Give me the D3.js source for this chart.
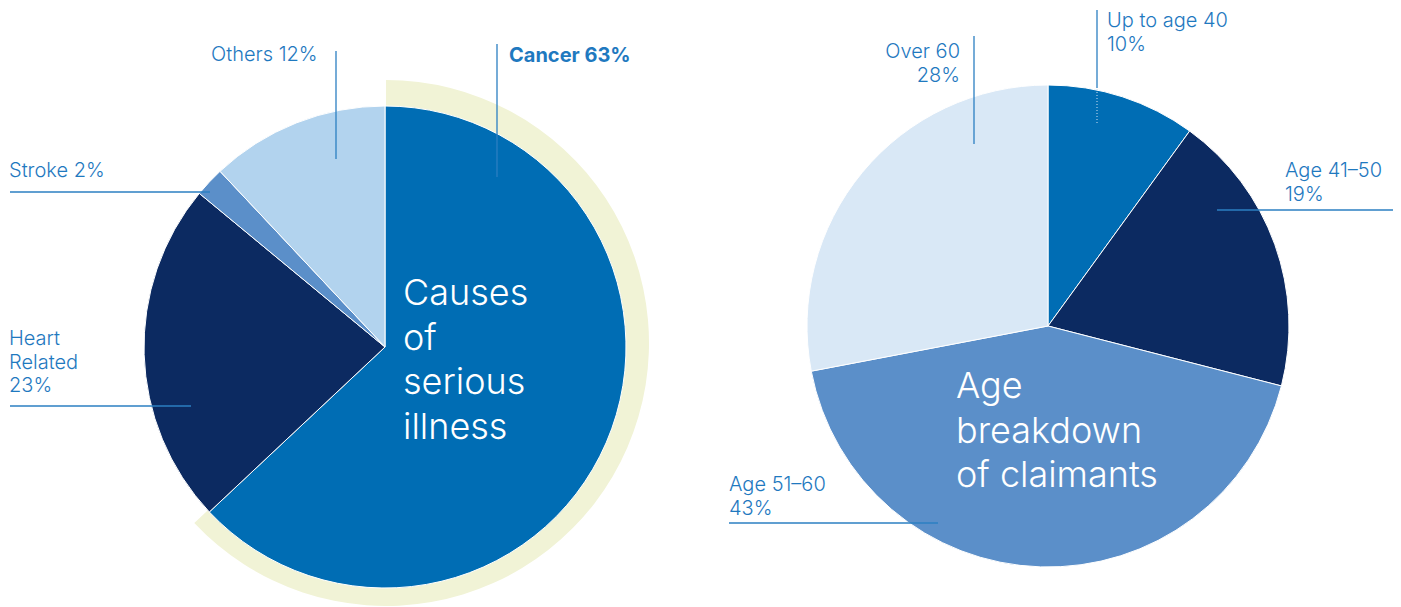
<!DOCTYPE html>
<html>
<head>
<meta charset="utf-8">
<script src="https://cdn.jsdelivr.net/npm/d3@7"></script>
<style>
  body { margin: 0; background: #fff; }
  svg text { font-family: Inter, "Liberation Sans", sans-serif; }
</style>
</head>
<body>
<div id="chart"></div>
<script>
// causes of serious illness
var causeLabels = ["Cancer", "Heart Related", "Stroke", "Others"];
var causeValues = [63, 23, 2, 12];
var causeColors = ["#006db4", "#0c2a61", "#5b8fc9", "#b2d3ee"];

// age breakdown of claimants
var ageLabels = ["Up to age 40", "Age 41–50", "Age 51–60", "Over 60"];
var ageValues = [10, 19, 43, 28];
var ageColors = ["#006db4", "#0c2a61", "#5b8fc9", "#d9e8f6"];

var lineColor = "#2b7fc2";
var textColor = "#1f79bf";

function init(){
    var w = 1401, h = 607;
    var r = 241;

    var svg = d3.select("#chart").append("svg")
      .attr("width", w)
      .attr("height", h);

    var pie = d3.pie().sort(null).value(function(d){ return d; });
    var arc = d3.arc().innerRadius(0).outerRadius(r);
    var causeArcs = pie(causeValues);

    // highlight ring behind the cancer slice (drawn first)
    svg.append("path")
      .attr("transform", "translate(386,343)")
      .attr("d", d3.arc()({innerRadius: 0, outerRadius: 263,
          startAngle: causeArcs[0].startAngle, endAngle: causeArcs[0].endAngle}))
      .attr("fill", "#f1f3d6");

    // ---- left pie ----
    var left = svg.append("g").attr("transform", "translate(385,347)");
    left.selectAll("path.slice")
      .data(causeArcs)
      .enter()
      .append("path")
      .attr("class", "slice")
      .attr("d", arc)
      .attr("fill", function(d, i){ return causeColors[i]; })
      .attr("stroke", "#fff")
      .attr("stroke-width", 1);

    // ---- right pie ----
    var right = svg.append("g").attr("transform", "translate(1048,326)");
    right.selectAll("path.slice")
      .data(pie(ageValues))
      .enter()
      .append("path")
      .attr("class", "slice")
      .attr("d", arc)
      .attr("fill", function(d, i){ return ageColors[i]; })
      .attr("stroke", "#fff")
      .attr("stroke-width", 1);

    // leader lines
    var lines = [
      [497, 44, 497, 177], [336, 51, 336, 159], [10, 192, 210, 192], [10, 406, 191, 406],
      [974, 36, 974, 144], [1097, 10, 1097, 88], [1217, 210, 1393, 210], [729, 523, 938, 523]
    ];
    svg.selectAll("line.lead")
      .data(lines)
      .enter()
      .append("line")
      .attr("class", "lead")
      .attr("x1", function(d){ return d[0]; })
      .attr("y1", function(d){ return d[1]; })
      .attr("x2", function(d){ return d[2]; })
      .attr("y2", function(d){ return d[3]; })
      .attr("stroke", lineColor)
      .attr("stroke-width", 1.3);

    // dotted part inside the first age slice
    svg.append("line")
      .attr("x1", 1097).attr("y1", 89).attr("x2", 1097).attr("y2", 124)
      .attr("stroke", "#cfe0f2")
      .attr("stroke-width", 1)
      .attr("stroke-dasharray", "1,2");

    // labels: [lines, x, y, anchor, bold]
    var labels = [
      [[causeLabels[0] + " " + causeValues[0] + "%"], 509, 62, "start", true],
      [[causeLabels[3] + " " + causeValues[3] + "%"], 211, 61, "start", false],
      [[causeLabels[2] + " " + causeValues[2] + "%"], 9, 177, "start", false],
      [["Heart", "Related", causeValues[1] + "%"], 9, 345, "start", false],
      [[ageLabels[3], ageValues[3] + "%"], 960, 58, "end", false],
      [[ageLabels[0], ageValues[0] + "%"], 1107, 27, "start", false],
      [[ageLabels[1], ageValues[1] + "%"], 1285, 177, "start", false],
      [[ageLabels[2], ageValues[2] + "%"], 729, 491, "start", false]
    ];
    labels.forEach(function(l){
      var t = svg.append("text")
        .attr("x", l[1]).attr("y", l[2])
        .attr("text-anchor", l[3])
        .attr("fill", textColor)
        .attr("font-size", 20)
        .attr("font-weight", l[4] ? 700 : 300);
      l[0].forEach(function(s, i){
        t.append("tspan").attr("x", l[1]).attr("dy", i ? 23.5 : 0).text(s);
      });
    });

    // center titles
    var titles = [
      [["Causes", "of", "serious", "illness"], 403, 305],
      [["Age", "breakdown", "of claimants"], 956, 398]
    ];
    titles.forEach(function(tt){
      var t = svg.append("text")
        .attr("x", tt[1]).attr("y", tt[2])
        .attr("fill", "#fff")
        .attr("font-size", 36)
        .attr("font-weight", 300);
      tt[0].forEach(function(s, i){
        t.append("tspan").attr("x", tt[1]).attr("dy", i ? 44.7 : 0).text(s);
      });
    });
}

window.onload = init;
</script>
</body>
</html>
